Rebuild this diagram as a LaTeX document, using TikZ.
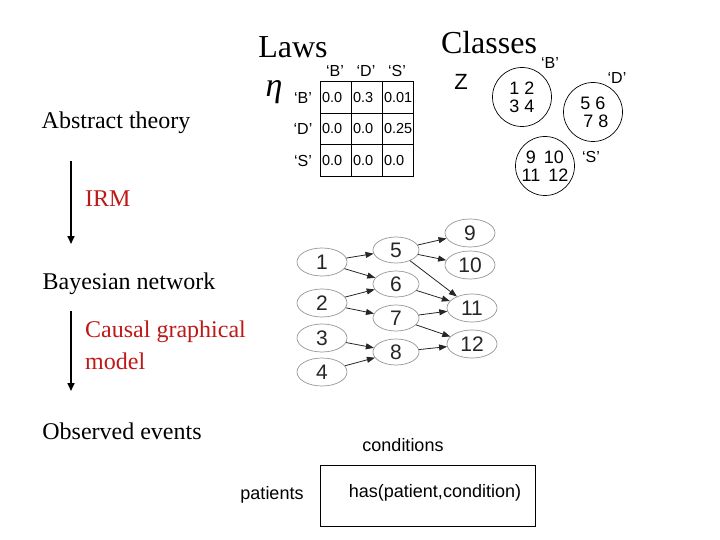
\documentclass[tikz,border=0pt]{standalone}
\usepackage{fontspec}
\setmainfont{Liberation Serif}
\setsansfont{Liberation Sans}
\usetikzlibrary{arrows.meta,shapes.geometric}
\definecolor{darkred}{RGB}{190,25,25}
\definecolor{ellgray}{RGB}{150,150,150}
\tikzset{
  serif/.style={font=\rmfamily\fontsize{24}{28}\selectfont, inner sep=0pt},
  title/.style={font=\rmfamily\fontsize{32}{36}\selectfont, inner sep=0pt},
  redtxt/.style={serif, text=darkred},
  lbl/.style={font=\sffamily\fontsize{16}{18}\selectfont, inner sep=0pt},
  sans/.style={font=\sffamily\fontsize{18}{21}\selectfont, inner sep=0pt},
  cell/.style={draw, line width=0.7pt, font=\sffamily\fontsize{14.5}{16}\selectfont,
    minimum height=31.5pt, text width=27pt, inner xsep=2pt, inner ysep=0pt, align=left},
  cls/.style={draw, circle, line width=0.7pt, minimum size=59pt, inner sep=0pt,
    font=\sffamily\fontsize{18}{20}\selectfont, align=center},
  bn/.style={draw=ellgray, ellipse, line width=0.7pt, minimum width=50pt, minimum height=28pt,
    inner sep=0pt, font=\sffamily\fontsize{21}{23}\selectfont, text=black!85},
  bnm/.style={bn, minimum width=46pt, minimum height=26pt},
  bedge/.style={line width=0.8pt, -{Triangle[length=8pt,width=6pt]}, black!85},
  bigarrow/.style={line width=1.6pt, -{Triangle[length=8pt,width=7pt]}},
}
\begin{document}
\begin{tikzpicture}[x=1pt,y=-1pt]
\useasboundingbox (0,0) rectangle (720,540);
% Left column
\node[serif] (abs) at (116,123) {Abstract theory};
\node[redtxt, anchor=west] (irm) at (85,199) {IRM};
\node[serif] (bayes) at (129,284) {Bayesian network};
\node[redtxt, anchor=west] (cgm1) at (85,332) {Causal graphical};
\node[redtxt, anchor=west] (cgm2) at (85,361) {model};
\node[serif] (obs) at (122,431) {Observed events};
\coordinate (a1s) at (71,161);
\coordinate (a1e) at (71,244);
\coordinate (a2s) at (71,311);
\coordinate (a2e) at (71,391);
\draw[bigarrow] (a1s) -- (a1e);
\draw[bigarrow] (a2s) -- (a2e);
% Laws
\node[title] (laws) at (293,47) {Laws};
\node[font=\rmfamily\itshape\fontsize{34}{36}\selectfont, inner sep=0pt] (eta) at (274,92) {η};
\node[lbl] (cB) at (335,71) {‘B’};
\node[lbl] (cD) at (366,71) {‘D’};
\node[lbl] (cS) at (397,71) {‘S’};
\node[lbl] (rB) at (303,98) {‘B’};
\node[lbl] (rD) at (303,129) {‘D’};
\node[lbl] (rS) at (303,161) {‘S’};
\node[cell] (m11) at (335.5,97.5) {0.0};
\node[cell] (m12) at (366.5,97.5) {0.3};
\node[cell] (m13) at (397.5,97.5) {0.01};
\node[cell] (m21) at (335.5,129) {0.0};
\node[cell] (m22) at (366.5,129) {0.0};
\node[cell] (m23) at (397.5,129) {0.25};
\node[cell] (m31) at (335.5,160.5) {0.0};
\node[cell] (m32) at (366.5,160.5) {0.0};
\node[cell] (m33) at (397.5,160.5) {0.0};
% Classes
\node[title] (classes) at (489,43) {Classes};
\node[font=\sffamily\fontsize{22}{24}\selectfont, inner sep=0pt] (z) at (461,82) {Z};
\node[cls] (clB) at (522,97) {1 2\\[-2pt]3 4};
\node[cls] (clD) at (593,112) {5 6\\[-2pt]\,\,7 8};
\node[cls] (clS) at (545,166) {9 \,10\\[-2pt]11 \,12};
\node[lbl] (lB) at (550,63) {‘B’};
\node[lbl] (lD) at (617,78) {‘D’};
\node[lbl] (lS) at (591,157) {‘S’};
% Bayesian network
\node[bn] (n1) at (322,262) {1};
\node[bn] (n2) at (322,303) {2};
\node[bn] (n3) at (322,338) {3};
\node[bn] (n4) at (322,372) {4};
\node[bnm] (n5) at (396,250) {5};
\node[bnm] (n6) at (396,284) {6};
\node[bnm] (n7) at (396,318) {7};
\node[bnm] (n8) at (396,352) {8};
\node[bn] (n9) at (470,233) {9};
\node[bn] (n10) at (470,265) {10};
\node[bn] (n11) at (472,308) {11};
\node[bn] (n12) at (472,344) {12};
\draw[bedge] (n1) -- (n5);
\draw[bedge] (n1) -- (n6);
\draw[bedge] (n2) -- (n6);
\draw[bedge] (n2) -- (n7);
\draw[bedge] (n3) -- (n8);
\draw[bedge] (n4) -- (n8);
\draw[bedge] (n5) -- (n9);
\draw[bedge] (n5) -- (n10);
\draw[bedge] (n5) -- (n11);
\draw[bedge] (n6) -- (n11);
\draw[bedge] (n7) -- (n11);
\draw[bedge] (n7) -- (n12);
\draw[bedge] (n8) -- (n12);
% Observed events data
\node[sans] (cond) at (403,445) {conditions};
\node[sans] (pat) at (272,495) {patients};
\node[draw, line width=0.8pt, minimum width=215pt, minimum height=61pt, inner sep=0pt] (has) at (427.5,495.5) {};
\node[sans] (hastxt) at (435,493) {has(patient,condition)};
\end{tikzpicture}
\end{document}
